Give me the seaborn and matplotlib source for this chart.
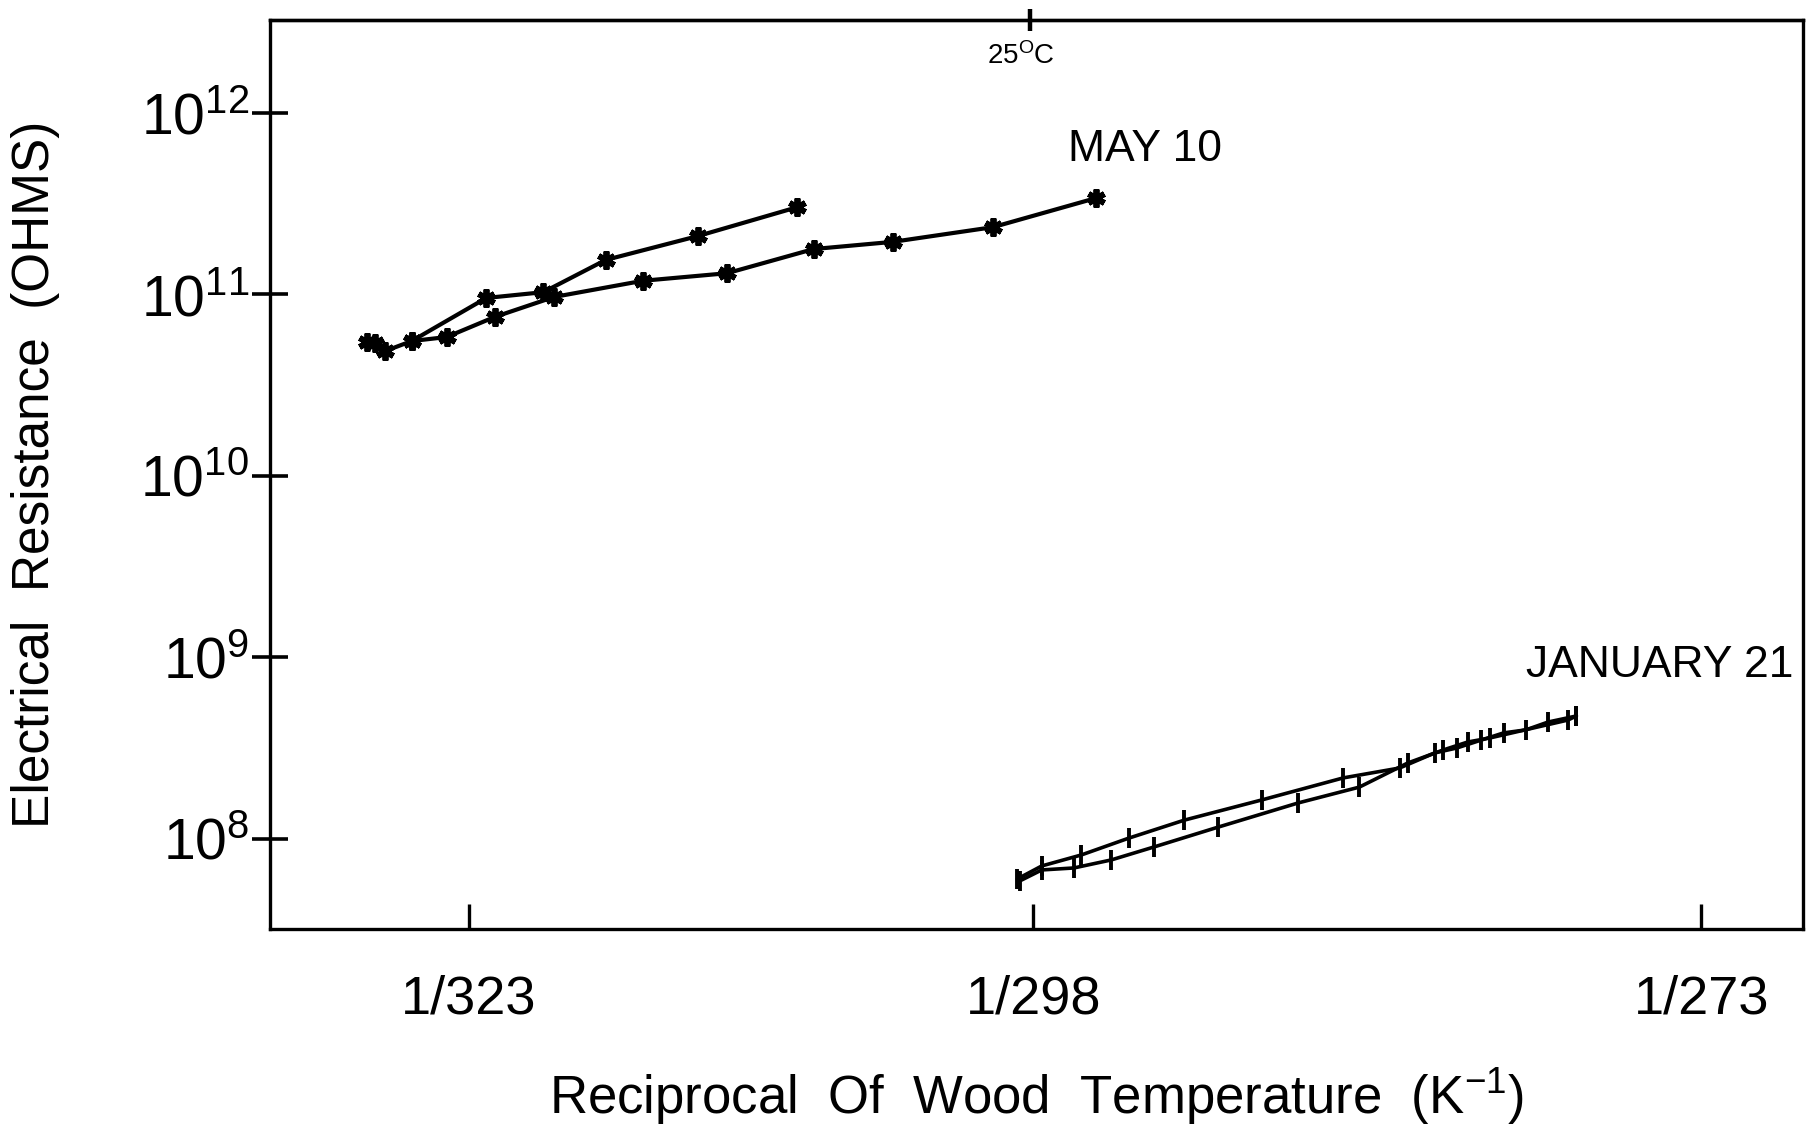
import numpy as np
import pandas as pd
import matplotlib.pyplot as plt
import seaborn as sns
from matplotlib.ticker import NullLocator

# wood temperature (deg C) and electrical resistance (ohms)
may_a_temp = [54.8, 54.4, 53.9, 52.6, 49.0, 46.3, 43.4, 39.2, 34.8]
may_a_res = [5.47e10, 5.41e10, 4.88e10, 5.54e10, 9.57e10, 1.03e11, 1.55e11, 2.10e11, 3.03e11]
may_b_temp = [52.6, 50.9, 48.6, 45.8, 41.7, 37.9, 34.1, 30.7, 26.5, 22.3]
may_b_res = [5.54e10, 5.83e10, 7.52e10, 9.69e10, 1.19e11, 1.31e11, 1.78e11, 1.95e11, 2.35e11, 3.40e11]

jan_a_temp = [25.5, 24.5, 22.9, 21.0, 18.8, 15.8, 12.7, 10.6, 9.3, 8.5, 7.6, 6.8, 6.0, 5.2, 4.2]
jan_a_res = [6.02e7, 7.10e7, 8.16e7, 1.01e8, 1.27e8, 1.64e8, 2.17e8, 2.46e8, 2.98e8,
             3.17e8, 3.51e8, 3.84e8, 3.99e8, 4.41e8, 4.76e8]
jan_b_temp = [25.4, 24.5, 23.2, 21.7, 20.0, 17.5, 14.4, 12.1, 10.3, 9.0, 8.1, 7.3, 4.5, 4.2]
jan_b_res = [5.87e7, 6.75e7, 6.92e7, 7.66e7, 9.03e7, 1.16e8, 1.58e8, 1.93e8, 2.62e8,
             3.09e8, 3.42e8, 3.60e8, 4.52e8, 4.76e8]

tick_kelvin = [323, 298, 273]
tick_labels = ["1/323", "1/298", "1/273"]


def make_frame(temps, res, run):
    df = pd.DataFrame({"temp": temps, "res": res})
    df["inv"] = 1000.0 / (df["temp"] + 273.15)
    df["run"] = run
    return df


may = pd.concat([make_frame(may_a_temp, may_a_res, "a"), make_frame(may_b_temp, may_b_res, "b")])
jan = pd.concat([make_frame(jan_a_temp, jan_a_res, "a"), make_frame(jan_b_temp, jan_b_res, "b")])

sns.set_style("ticks")
plt.rcParams["font.family"] = ["Liberation Sans", "DejaVu Sans"]
plt.rcParams["mathtext.fontset"] = "custom"
plt.rcParams["mathtext.rm"] = "Liberation Sans"
plt.rcParams["mathtext.it"] = "Liberation Sans:italic"
plt.rcParams["mathtext.bf"] = "Liberation Sans:bold"
plt.rcParams["mathtext.default"] = "regular"
for key in ["text.color", "axes.labelcolor", "xtick.color", "ytick.color", "axes.edgecolor"]:
    plt.rcParams[key] = "black"

fig = plt.figure(figsize=(18.1, 11.3), dpi=100)
ax = fig.add_axes([0.1492, 0.1779, 0.8469, 0.8048])

sns.lineplot(data=may, x="inv", y="res", units="run", estimator=None, sort=False,
             color="black", lw=3.0, marker=(6, 2, 0), ms=13, mew=4.2, mec="black", ax=ax)
sns.lineplot(data=jan, x="inv", y="res", units="run", estimator=None, sort=False,
             color="black", lw=2.6, marker="|", ms=15, mew=2.8, mec="black", ax=ax)

ax.set_yscale("log")
ax.set_xlim(3.00468, 3.70977)
ax.set_ylim(10 ** 7.504, 10 ** 12.515)
ax.set_xticks([1000.0 / k for k in tick_kelvin])
ax.set_xticklabels(tick_labels)
ax.set_yticks([1e8, 1e9, 1e10, 1e11, 1e12])
ax.yaxis.set_minor_locator(NullLocator())
ax.xaxis.set_minor_locator(NullLocator())

ax.tick_params(axis="x", direction="in", length=18, width=2.4, labelsize=39, pad=33)
ax.tick_params(axis="y", direction="inout", length=26, width=2.6, labelsize=41, pad=2)
for s in ax.spines.values():
    s.set_linewidth(2.4)

# 25 C marker on the top edge
top = ax.secondary_xaxis("top")
top.set_xticks([1000.0 / 298.15])
top.set_xticklabels([""])
top.tick_params(direction="inout", length=16, width=3.2)
top.spines["top"].set_linewidth(2.4)
ax.annotate("25$^{O}$C", xy=(1000.0 / 298.15, 0.975), xycoords=("data", "axes fraction"),
            xytext=(-6, 0), textcoords="offset points", ha="center", va="top", fontsize=20)

ax.text(0.5206, 0.8566, "MAY 10", transform=ax.transAxes, ha="left", va="center", fontsize=32)
ax.text(0.8193, 0.2892, "JANUARY 21", transform=ax.transAxes, ha="left", va="center", fontsize=32)

ax.set_xlabel("Reciprocal  Of  Wood  Temperature  (K$^{-1}$)", fontsize=38, labelpad=30)
ax.set_ylabel("Electrical  Resistance  (OHMS)", fontsize=37, labelpad=58)

fig.savefig("out.png", dpi=100)
